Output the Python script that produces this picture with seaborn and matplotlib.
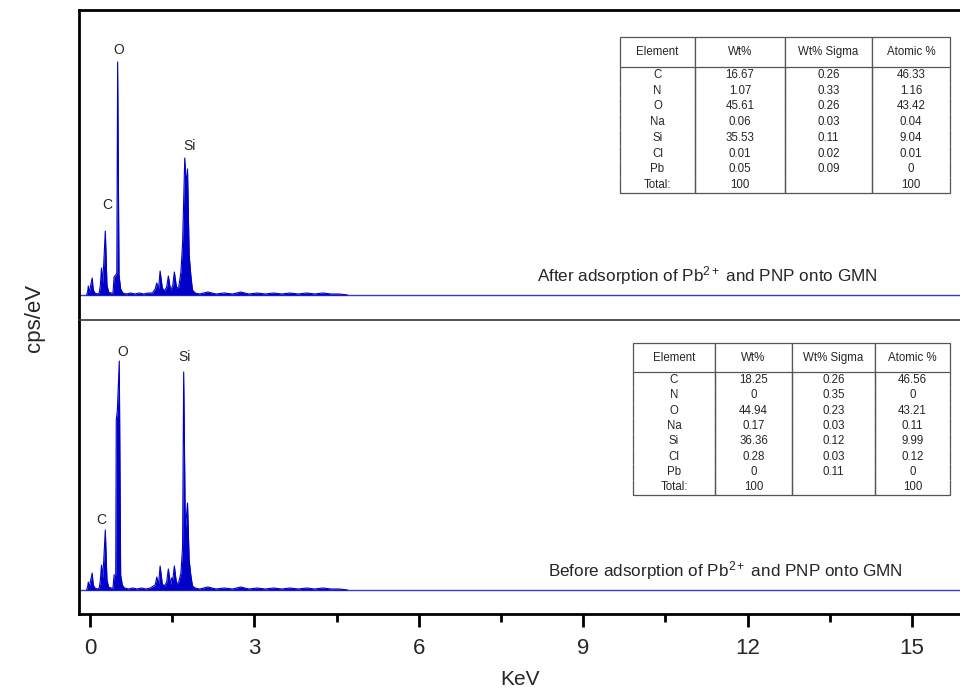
import matplotlib
matplotlib.use("Agg")
import matplotlib.pyplot as plt
from matplotlib.ticker import MultipleLocator
import seaborn as sns

# spectrum vertices (height in arbitrary cps/eV units)
after_kev = [-0.06, -0.04, -0.03, -0.015, 0.00, 0.04, 0.06, 0.09, 0.13, 0.17,
             0.19, 0.21, 0.23, 0.25, 0.28, 0.31, 0.34, 0.38, 0.42, 0.44,
             0.47, 0.49, 0.505, 0.53, 0.56, 0.60, 0.66, 0.74, 0.82, 0.90,
             0.98, 1.06, 1.14, 1.19, 1.22, 1.25, 1.28, 1.32, 1.36, 1.40,
             1.43, 1.47, 1.51, 1.54, 1.58, 1.62, 1.66, 1.69, 1.73, 1.755,
             1.78, 1.81, 1.84, 1.87, 1.92, 2.00, 2.15, 2.30, 2.45, 2.60,
             2.75, 2.90, 3.05, 3.20, 3.35, 3.50, 3.65, 3.80, 3.95, 4.10,
             4.25, 4.40, 4.55, 4.70]
after_cps = [0, 4, 9, 3, 6, 17, 5, 2, 1, 2,
             10, 27, 12, 30, 64, 10, 3, 2, 2, 18,
             20, 22, 233, 20, 6, 2, 1, 2, 1, 2,
             1, 2, 2, 6, 12, 5, 24, 7, 4, 8,
             19, 5, 9, 23, 7, 8, 23, 52, 137, 110,
             126, 40, 20, 5, 2, 1, 3, 1, 2, 1,
             3, 1, 2, 1, 2, 1, 2, 1, 2, 1,
             2, 1, 1, 0]

before_kev = [-0.06, -0.04, -0.03, -0.015, 0.00, 0.04, 0.06, 0.09, 0.13, 0.17,
              0.19, 0.21, 0.23, 0.25, 0.28, 0.31, 0.34, 0.38, 0.42, 0.44,
              0.47, 0.48, 0.50, 0.535, 0.56, 0.59, 0.63, 0.70, 0.78, 0.86,
              0.94, 1.02, 1.10, 1.19, 1.22, 1.25, 1.28, 1.32, 1.36, 1.40,
              1.43, 1.47, 1.49, 1.51, 1.54, 1.58, 1.62, 1.66, 1.69, 1.71,
              1.74, 1.78, 1.81, 1.84, 1.87, 1.92, 2.00, 2.15, 2.30, 2.45,
              2.60, 2.75, 2.90, 3.05, 3.20, 3.35, 3.50, 3.65, 3.80, 3.95,
              4.10, 4.25, 4.40, 4.55, 4.70]
before_cps = [0, 4, 8, 3, 6, 17, 5, 2, 1, 2,
              10, 25, 12, 28, 60, 10, 3, 2, 2, 15,
              15, 170, 180, 229, 15, 5, 2, 1, 2, 1,
              2, 1, 2, 5, 13, 5, 24, 6, 4, 8,
              21, 5, 12, 10, 24, 6, 8, 17, 43, 218,
              60, 87, 30, 15, 4, 2, 1, 3, 1, 2,
              1, 3, 1, 2, 1, 2, 1, 2, 1, 2,
              1, 2, 1, 1, 0]

after_peaks = [("O", 0.53, 245), ("C", 0.31, 90), ("Si", 1.81, 149)]
before_peaks = [("O", 0.60, 238), ("Si", 1.72, 233), ("C", 0.20, 70)]

table_cols = ["Element", "Wt%", "Wt% Sigma", "Atomic %"]
elements = ["C", "N", "O", "Na", "Si", "Cl", "Pb", "Total:"]
after_wt = ["16.67", "1.07", "45.61", "0.06", "35.53", "0.01", "0.05", "100"]
after_sigma = ["0.26", "0.33", "0.26", "0.03", "0.11", "0.02", "0.09", ""]
after_at = ["46.33", "1.16", "43.42", "0.04", "9.04", "0.01", "0", "100"]
before_wt = ["18.25", "0", "44.94", "0.17", "36.36", "0.28", "0", "100"]
before_sigma = ["0.26", "0.35", "0.23", "0.03", "0.12", "0.03", "0.11", ""]
before_at = ["46.56", "0", "43.21", "0.11", "9.99", "0.12", "0", "100"]

sns.set_style("ticks")
plt.rcParams["font.family"] = ["Liberation Sans", "DejaVu Sans"]
plt.rcParams["mathtext.fontset"] = "custom"
plt.rcParams["mathtext.rm"] = "Liberation Sans"
plt.rcParams["mathtext.it"] = "Liberation Sans"

BLUE = "#0000c8"

fig = plt.figure(figsize=(9.6, 6.96), dpi=100)
ax_top = fig.add_axes([79 / 960, 376 / 696, 881 / 960, 310 / 696])
ax_bot = fig.add_axes([79 / 960, 82 / 696, 881 / 960, 294 / 696], sharex=ax_top)


def add_table(ax, wt, sigma, at, bbox, widths):
    rows = [[e, w, s, a] for e, w, s, a in zip(elements, wt, sigma, at)]
    tb = ax.table(cellText=rows, colLabels=table_cols, cellLoc="center",
                  bbox=bbox, colWidths=widths)
    tb.auto_set_font_size(False)
    tb.set_fontsize(8.3)
    nrows = len(rows)
    for (r, c), cell in tb.get_celld().items():
        cell.set_edgecolor("#555555")
        cell.set_linewidth(0.9)
        if r == 0:
            cell.set_height(cell.get_height() * 1.9)
            cell.visible_edges = "closed"
        elif r == nrows:
            cell.visible_edges = "BLR"
        else:
            cell.visible_edges = "LR"
    return tb


def draw_panel(ax, kev, cps, peaks, caption, cap_x, ylim):
    ax.axhline(0, color="#3a3ac8", lw=1.0, zorder=1)
    ax.fill_between(kev, cps, 0, color=BLUE, lw=0, zorder=2)
    sns.lineplot(x=kev, y=cps, ax=ax, color=BLUE, lw=0.8,
                 estimator=None, sort=False, zorder=3)
    for name, x, y in peaks:
        ax.text(x, y, name, ha="center", va="center", fontsize=10)
    ax.text(cap_x, 19, caption, ha="center", va="center", fontsize=12.3)
    ax.set_ylim(*ylim)
    ax.set_yticks([])
    ax.set_ylabel("")
    ax.spines["right"].set_visible(False)
    ax.spines["left"].set_linewidth(2)
    ax.spines["left"].set_color("black")


draw_panel(ax_top, after_kev, after_cps, after_peaks,
           "After adsorption of Pb$^{2+}$ and PNP onto GMN", 11.26, (-25, 285))
draw_panel(ax_bot, before_kev, before_cps, before_peaks,
           "Before adsorption of Pb$^{2+}$ and PNP onto GMN", 11.59, (-24, 270))

add_table(ax_top, after_wt, after_sigma, after_at,
          [(620 - 79) / 881, (320 - 193) / 310, 330 / 881, 156 / 310],
          [75, 90, 87, 78])
add_table(ax_bot, before_wt, before_sigma, before_at,
          [(633 - 79) / 881, (320 - 495) / 294 + 1, 317 / 881, 152 / 294],
          [82, 77, 83, 75])

ax_top.spines["top"].set_linewidth(2)
ax_top.spines["top"].set_color("black")
ax_top.spines["bottom"].set_visible(False)
ax_top.tick_params(axis="x", which="both", bottom=False, labelbottom=False)

# divider between the two spectra
ax_bot.spines["top"].set_linewidth(1.2)
ax_bot.spines["top"].set_color("#333333")
ax_bot.spines["bottom"].set_linewidth(2)
ax_bot.spines["bottom"].set_color("black")

ax_bot.set_xlim(-0.2, (960 - 90) / 54.8)
ax_bot.xaxis.set_major_locator(MultipleLocator(3))
ax_bot.xaxis.set_minor_locator(MultipleLocator(1.5))
ax_bot.tick_params(axis="x", which="major", length=9, width=2, direction="out",
                   labelsize=16, pad=8, color="black")
ax_bot.tick_params(axis="x", which="minor", length=6, width=2, direction="out",
                   color="black")
ax_bot.set_xlabel("KeV", fontsize=15, labelpad=8)

fig.text(35 / 960, 1 - 318 / 696, "cps/eV", rotation=90, ha="center",
         va="center", fontsize=16)

fig.savefig("out.png", dpi=100)
